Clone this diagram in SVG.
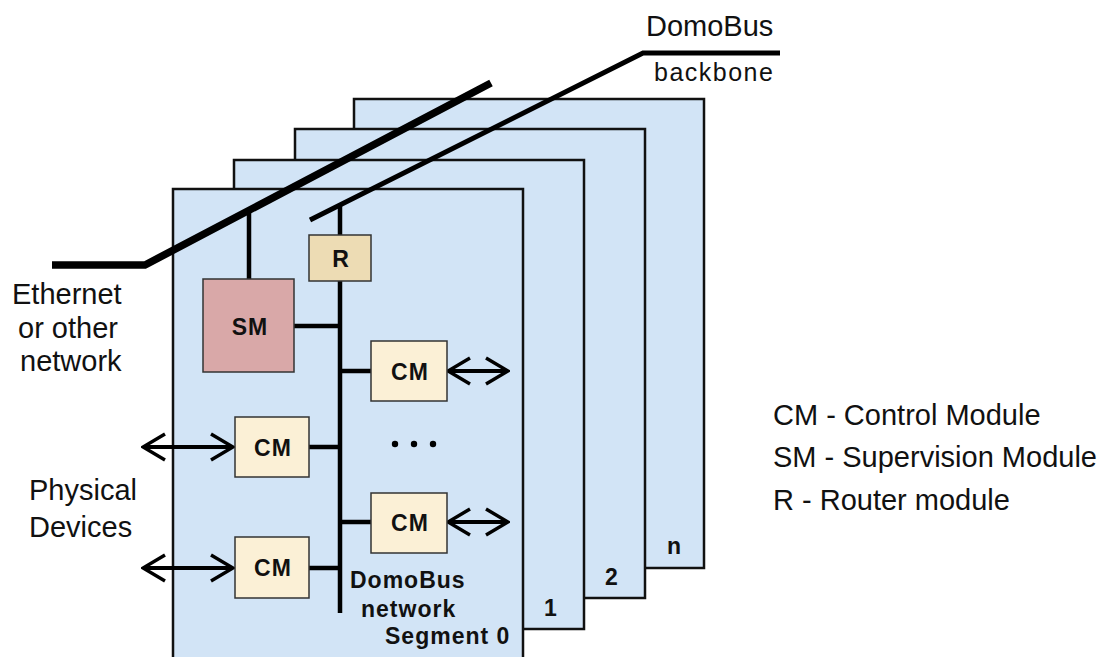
<svg xmlns="http://www.w3.org/2000/svg" width="1113" height="657" viewBox="0 0 1113 657">
<defs>
<style>
.panel{fill:#D2E4F6;stroke:#111;stroke-width:2.5}
.box{stroke:#333;stroke-width:1.5}
.cm{fill:#FBF0D6}
.r{fill:#EDDCB4}
.sm{fill:#D9A8A8}
.lbl{font-family:"Liberation Sans",Arial,sans-serif;font-weight:bold;font-size:23px;letter-spacing:1px;fill:#111}
.txt{font-family:"Liberation Sans",Arial,sans-serif;font-size:29px;fill:#111}
.wire{stroke:#000;stroke-width:4.5;fill:none}
.arr{stroke:#000;stroke-width:4;fill:none;marker-start:url(#ah);marker-end:url(#ah)}
</style>
<marker id="ah" viewBox="0 0 26 30" refX="24" refY="15" markerWidth="26" markerHeight="30" markerUnits="userSpaceOnUse" orient="auto-start-reverse">
<path d="M2,2 L24,15 L2,28" fill="none" stroke="#000" stroke-width="3.5"/>
</marker>
</defs>
<rect width="1113" height="657" fill="#fff"/>
<g id="panels">
<g id="panel-n"><rect class="panel" x="354" y="99" width="350" height="469"/><text class="lbl" x="667" y="554">n</text></g>
<g id="panel-2"><rect class="panel" x="295" y="129" width="350" height="469"/><text class="lbl" x="605" y="585">2</text></g>
<g id="panel-1"><rect class="panel" x="234" y="160" width="350" height="469"/><text class="lbl" x="544" y="616">1</text></g>
<g id="panel-0"><rect class="panel" x="173" y="189" width="350" height="480"/>
<text class="lbl" x="350" y="588">DomoBus</text>
<text class="lbl" x="361" y="617">network</text>
<text class="lbl" x="385" y="644">Segment 0</text>
</g>
</g>
<g id="connectors">
<polyline points="52,265 145,265 491,83" fill="none" stroke="#000" stroke-width="7.5"/>
<polyline points="310,220 643,53 780,53" fill="none" stroke="#000" stroke-width="5"/>
<line class="wire" x1="249" y1="211" x2="249" y2="279"/>
<line class="wire" x1="340" y1="205" x2="340" y2="613"/>
<line class="wire" x1="294" y1="326" x2="340" y2="326"/>
<line class="wire" x1="340" y1="371" x2="371" y2="371"/>
<line class="wire" x1="340" y1="522" x2="371" y2="522"/>
<line class="wire" x1="309" y1="447" x2="340" y2="447"/>
<line class="wire" x1="309" y1="568" x2="340" y2="568"/>
<line class="arr" x1="448" y1="371" x2="508" y2="371"/>
<line class="arr" x1="448" y1="522" x2="508" y2="522"/>
<line class="arr" x1="143" y1="447" x2="233" y2="447"/>
<line class="arr" x1="143" y1="568" x2="233" y2="568"/>
</g>
<g id="R"><rect class="box r" x="309" y="235" width="62" height="46"/><text class="lbl" x="341" y="267" text-anchor="middle">R</text></g>
<g id="SM"><rect class="box sm" x="203" y="279" width="91" height="93"/><text class="lbl" x="250" y="335" text-anchor="middle">SM</text></g>
<g id="CM1"><rect class="box cm" x="371" y="341" width="76" height="60"/><text class="lbl" x="410" y="380" text-anchor="middle">CM</text></g>
<g id="CM2"><rect class="box cm" x="235" y="417" width="74" height="60"/><text class="lbl" x="273" y="456" text-anchor="middle">CM</text></g>
<g id="CM3"><rect class="box cm" x="371" y="493" width="76" height="60"/><text class="lbl" x="410" y="531" text-anchor="middle">CM</text></g>
<g id="CM4"><rect class="box cm" x="235" y="537" width="74" height="61"/><text class="lbl" x="273" y="576" text-anchor="middle">CM</text></g>
<g id="dots" fill="#000"><circle cx="395" cy="444" r="3.2"/><circle cx="414" cy="444" r="3.2"/><circle cx="433" cy="444" r="3.2"/></g>
<g id="labels">
<text class="txt" x="12" y="304">Ethernet</text>
<text class="txt" x="18" y="338">or other</text>
<text class="txt" x="20" y="371">network</text>
<text class="txt" x="29" y="500">Physical</text>
<text class="txt" x="29" y="537">Devices</text>
<text class="txt" x="646" y="36" font-size="28">DomoBus</text>
<text class="txt" x="654" y="81" style="font-size:25px;letter-spacing:1.5px">backbone</text>
</g>
<g id="legend">
<text class="txt" x="773" y="425">CM - Control Module</text>
<text class="txt" x="773" y="467">SM - Supervision Module</text>
<text class="txt" x="773" y="510">R - Router module</text>
</g>
</svg>
